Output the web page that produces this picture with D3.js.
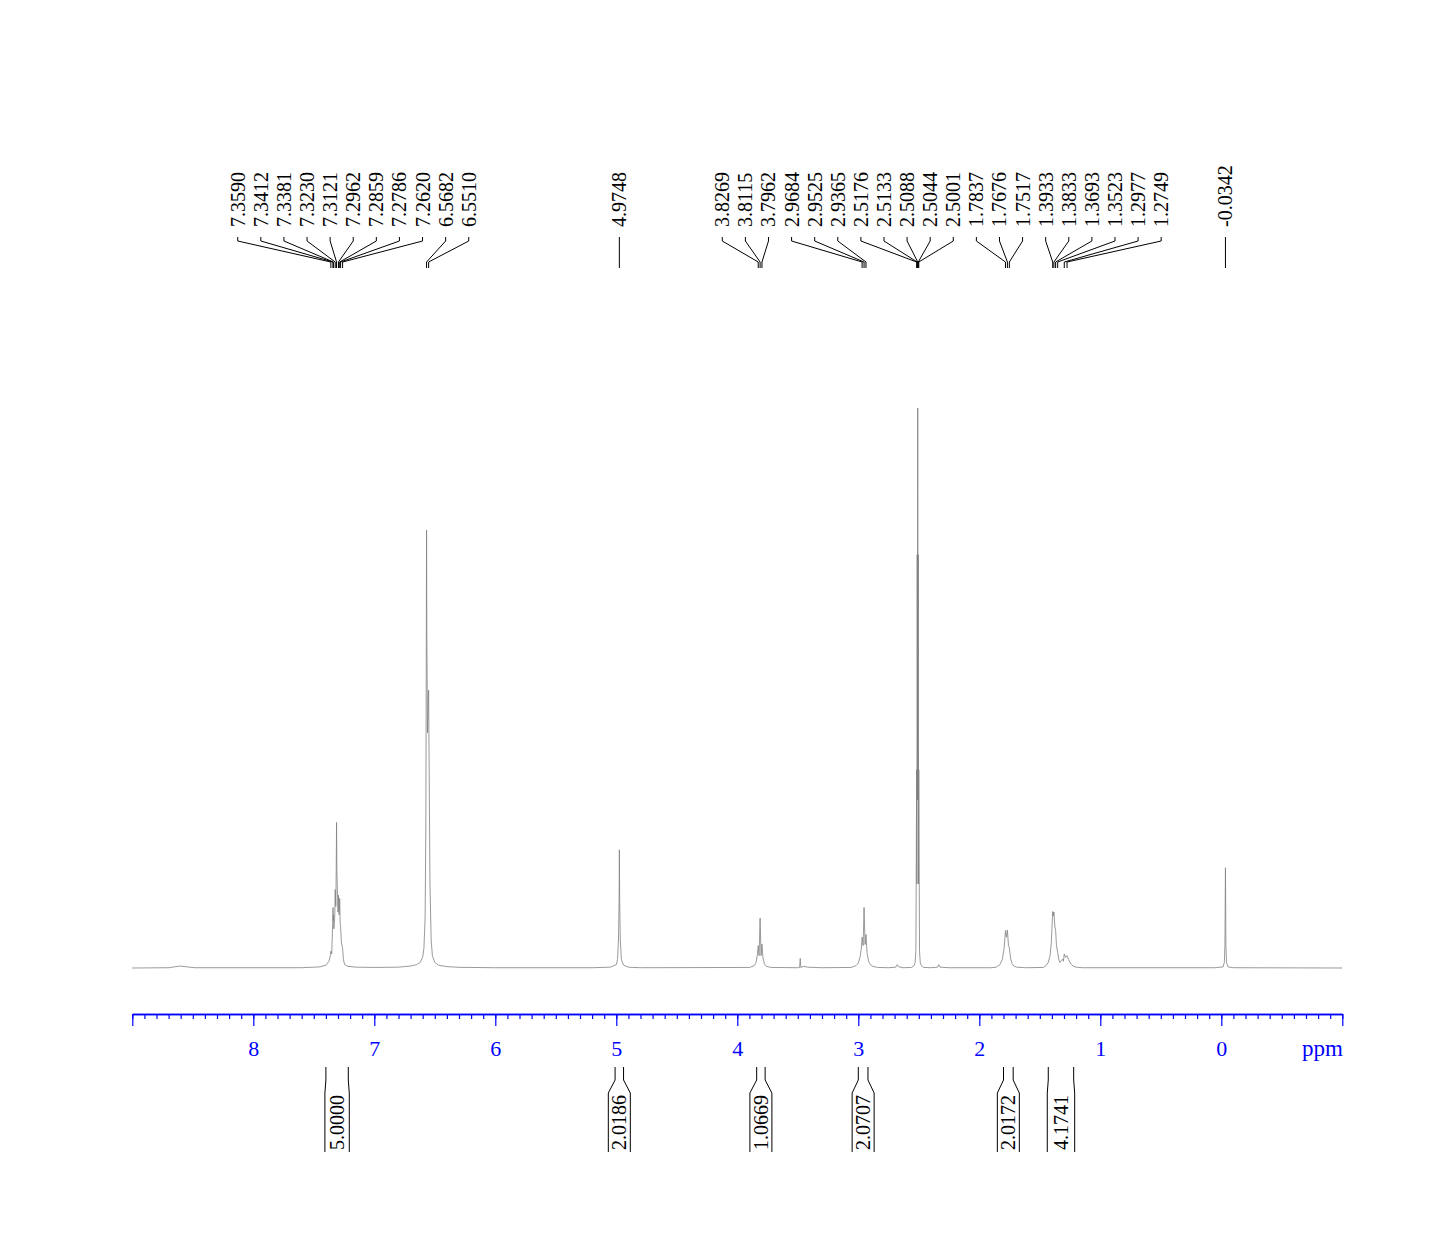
<!DOCTYPE html>
<html>
<head>
<meta charset="utf-8">
<script src="https://cdn.jsdelivr.net/npm/d3@7"></script>
<style>
  body { margin: 0; background: #fff; }
  text { font-family: "Liberation Serif", "Times New Roman", serif; }
</style>
</head>
<body>
<div id="chart"></div>
<script>
// spectrum trace as [ppm, intensity], intensity in % of tallest line (DMSO)
const spectrum = [
    [9.00, 0], [8.70, 0.05], [8.64, 0.25], [8.60, 0.35], [8.55, 0.2], [8.48, 0.05],
    [7.60, 0.05], [7.45, 0.2], [7.40, 0.5], [7.375, 1.2], [7.365, 2.0],
    [7.359, 3.0], [7.352, 2.5], [7.344, 8], [7.341, 10.8], [7.3395, 8.5],
    [7.338, 9.5], [7.334, 7], [7.327, 9], [7.323, 14], [7.318, 11],
    [7.3145, 18], [7.312, 26], [7.309, 17], [7.300, 10], [7.296, 13],
    [7.291, 9.5], [7.286, 12.4], [7.282, 8], [7.279, 7.6], [7.272, 4.5],
    [7.262, 3.5], [7.255, 1.5], [7.245, 0.6], [7.22, 0.3], [7.15, 0.15], [7.00, 0.1],
    [6.80, 0.15], [6.70, 0.35], [6.65, 0.6], [6.62, 1.0], [6.60, 2.0], [6.59, 3.5],
    [6.58, 9], [6.574, 25], [6.570, 60], [6.568, 78.2], [6.566, 60], [6.560, 42],
    [6.553, 48], [6.551, 49.6], [6.548, 40], [6.540, 15], [6.530, 5], [6.520, 2.2],
    [6.50, 1.0], [6.47, 0.5], [6.40, 0.25], [6.30, 0.12], [6.00, 0.05],
    [5.20, 0.05], [5.05, 0.15], [5.00, 0.6], [4.99, 1.5], [4.982, 5], [4.977, 12],
    [4.9748, 21.1], [4.972, 12], [4.967, 5], [4.958, 1.5], [4.94, 0.5], [4.90, 0.15],
    [4.80, 0.05], [3.90, 0.1], [3.86, 0.4], [3.845, 1.0], [3.835, 2.2],
    [3.8269, 4.0], [3.820, 2.2], [3.8115, 8.9], [3.804, 2.2], [3.7962, 4.3],
    [3.788, 1.8], [3.775, 0.7], [3.76, 0.3], [3.72, 0.1], [3.50, 0.05],
    [3.485, 0.1], [3.480, 1.7], [3.475, 0.1], [3.45, 0.3], [3.42, 0.15], [3.30, 0.05],
    [3.06, 0.1], [3.02, 0.4], [3.00, 0.9], [2.985, 2.0], [2.975, 3.5],
    [2.9684, 5.5], [2.960, 4.0], [2.9525, 10.8], [2.944, 4.2], [2.9365, 6.0],
    [2.928, 2.8], [2.915, 1.2], [2.90, 0.6], [2.88, 0.3], [2.84, 0.1], [2.75, 0.05],
    [2.69, 0.15], [2.678, 0.6], [2.665, 0.2], [2.63, 0.05], [2.56, 0.1],
    [2.54, 0.4], [2.53, 1.0], [2.524, 3], [2.5176, 35.4], [2.5155, 15],
    [2.5133, 73.8], [2.511, 30], [2.5088, 100], [2.5066, 30], [2.5044, 73.8],
    [2.5022, 15], [2.5001, 35.4], [2.494, 3], [2.488, 1.0], [2.478, 0.4],
    [2.46, 0.1], [2.40, 0.05], [2.345, 0.15], [2.335, 0.6], [2.325, 0.15],
    [2.25, 0.05], [1.90, 0.05], [1.86, 0.15], [1.83, 0.6], [1.81, 1.5],
    [1.795, 3.5], [1.7837, 6.7], [1.776, 5.5], [1.7676, 6.8], [1.759, 4.0],
    [1.7517, 3.6], [1.742, 1.8], [1.73, 0.8], [1.715, 0.35], [1.69, 0.15],
    [1.62, 0.05], [1.47, 0.1], [1.45, 0.4], [1.43, 1.0], [1.415, 2.2],
    [1.405, 4.5], [1.3933, 10.1], [1.388, 9.3], [1.3833, 10.0], [1.376, 7.5],
    [1.3693, 6.7], [1.362, 4.0], [1.3523, 2.8], [1.342, 1.4], [1.333, 1.0],
    [1.320, 1.4], [1.311, 1.6], [1.305, 1.2], [1.2977, 2.5], [1.287, 1.9],
    [1.2749, 2.2], [1.262, 1.5], [1.245, 0.8], [1.225, 0.35], [1.20, 0.15],
    [1.15, 0.05], [0.05, 0.05], [-0.015, 0.2], [-0.025, 1.0], [-0.030, 4],
    [-0.0342, 17.9], [-0.038, 4], [-0.043, 1.0], [-0.055, 0.2], [-0.10, 0.05],
    [-1.00, 0]
];

// picked peaks (labels at top)
const peakLabels = [
    7.3590, 7.3412, 7.3381, 7.3230, 7.3121, 7.2962, 7.2859, 7.2786, 7.2620,
    6.5682, 6.5510, 4.9748, 3.8269, 3.8115, 3.7962, 2.9684, 2.9525, 2.9365,
    2.5176, 2.5133, 2.5088, 2.5044, 2.5001, 1.7837, 1.7676, 1.7517,
    1.3933, 1.3833, 1.3693, 1.3523, 1.2977, 1.2749, -0.0342
];

// integral regions [from, to] in ppm and their values
const integralRanges = [[7.40, 7.215], [5.01, 4.94], [3.84, 3.77], [3.00, 2.92], [1.80, 1.72], [1.43, 1.22]];
const integralValues = [5.0000, 2.0186, 1.0669, 2.0707, 2.0172, 4.1741];

// axis ticks
const majorTicks = d3.range(9, -1.5, -1);
const tickLabels = [8, 7, 6, 5, 4, 3, 2, 1, 0];
const minorTicks = d3.range(90, -11, -1).map(function (d) { return d / 10; });

const W = 1447, H = 1241;
const blue = "#0000ff";

let svg = d3.select("#chart").append("svg")
    .attr("width", W)
    .attr("height", H);

let x = d3.scaleLinear().domain([9, -1]).range([132.3, 1342.3]);
let y = d3.scaleLinear().domain([0, 100]).range([968, 408]);

//The spectrum trace
let line = d3.line()
    .x(function (d) { return x(d[0]); })
    .y(function (d) { return y(d[1]); });

svg.append("path")
    .datum(spectrum)
    .attr("d", line)
    .style("fill", "none")
    .style("stroke", "#808080")
    .style("stroke-width", 0.8);

//Axis: minor ticks then major ticks with labels
let axisY = 1014;
let minorAxis = d3.axisBottom(x).tickValues(minorTicks).tickSize(5).tickSizeOuter(0).tickFormat("");
let majorAxis = d3.axisBottom(x).tickValues(majorTicks).tickSize(12).tickSizeOuter(0)
    .tickFormat(function (d) { return tickLabels.indexOf(d) >= 0 ? d : ""; });

let gMinor = svg.append("g").attr("transform", "translate(0," + axisY + ")").call(minorAxis);
let gMajor = svg.append("g").attr("transform", "translate(0," + axisY + ")").call(majorAxis);

[gMinor, gMajor].forEach(function (g) {
    g.select(".domain").style("stroke", blue).style("stroke-width", 1.3);
    g.selectAll(".tick line").style("stroke", blue).style("stroke-width", 1.2);
});
gMajor.selectAll(".tick text")
    .attr("y", 0)
    .attr("dy", 0)
    .attr("transform", "translate(0,42)")
    .style("font-family", "'Liberation Serif', 'Times New Roman', serif")
    .style("font-size", "22px")
    .style("fill", blue);

svg.append("text")
    .attr("x", 1343)
    .attr("y", 1056)
    .attr("text-anchor", "end")
    .style("font-size", "23px")
    .style("fill", blue)
    .text("ppm");

//Spread the peak labels so they do not overlap
function layoutLabels(xs, gap) {
    let clusters = xs.map(function (v) { return { members: [v], center: v }; });
    let merged = true;
    while (merged) {
        merged = false;
        for (let i = 0; i < clusters.length - 1; i++) {
            let a = clusters[i], b = clusters[i + 1];
            let aRight = a.center + ((a.members.length - 1) / 2) * gap;
            let bLeft = b.center - ((b.members.length - 1) / 2) * gap;
            if (bLeft - aRight < gap) {
                let m = a.members.concat(b.members);
                clusters.splice(i, 2, { members: m, center: d3.mean(m) });
                merged = true;
                break;
            }
        }
    }
    let out = [];
    clusters.forEach(function (c) {
        let n = c.members.length;
        c.members.forEach(function (v, k) {
            out.push(c.center + (k - (n - 1) / 2) * gap);
        });
    });
    return out;
}

let peakX = peakLabels.map(function (d) { return x(d); });
let labelX = layoutLabels(peakX, 23.1);

let labels = svg.append("g").attr("class", "peakLabels");

labels.selectAll("path")
    .data(peakLabels)
    .enter()
    .append("path")
    .attr("d", function (d, i) {
        return "M" + labelX[i] + ",237 L" + labelX[i] + ",241 L" + peakX[i] + ",262 L" + peakX[i] + ",268";
    })
    .style("fill", "none")
    .style("stroke", "#000")
    .style("stroke-width", 1);

labels.selectAll("text")
    .data(peakLabels)
    .enter()
    .append("text")
    .attr("transform", function (d, i) {
        return "translate(" + (labelX[i] + 7) + ",227) rotate(-90)";
    })
    .style("font-size", "20px")
    .style("fill", "#000")
    .text(function (d) { return d.toFixed(4); });

//Integrals under the axis
let integrals = svg.append("g").attr("class", "integrals");
let minWidth = 22;

integralRanges.forEach(function (r, i) {
    let x1 = x(r[0]), x2 = x(r[1]);
    let cx = (x1 + x2) / 2;
    let half = Math.max((x2 - x1) / 2 + 1, minWidth / 2);
    let b1 = cx - half, b2 = cx + half;
    integrals.append("path")
        .attr("d", "M" + x1 + ",1067 L" + x1 + ",1080 L" + b1 + ",1093 L" + b1 + ",1152" +
            " M" + x2 + ",1067 L" + x2 + ",1080 L" + b2 + ",1093 L" + b2 + ",1152")
        .style("fill", "none")
        .style("stroke", "#000")
        .style("stroke-width", 1);
    integrals.append("text")
        .attr("transform", "translate(" + (cx + 7) + ",1150) rotate(-90)")
        .style("font-size", "20px")
        .style("fill", "#000")
        .text(integralValues[i].toFixed(4));
});
</script>
</body>
</html>
